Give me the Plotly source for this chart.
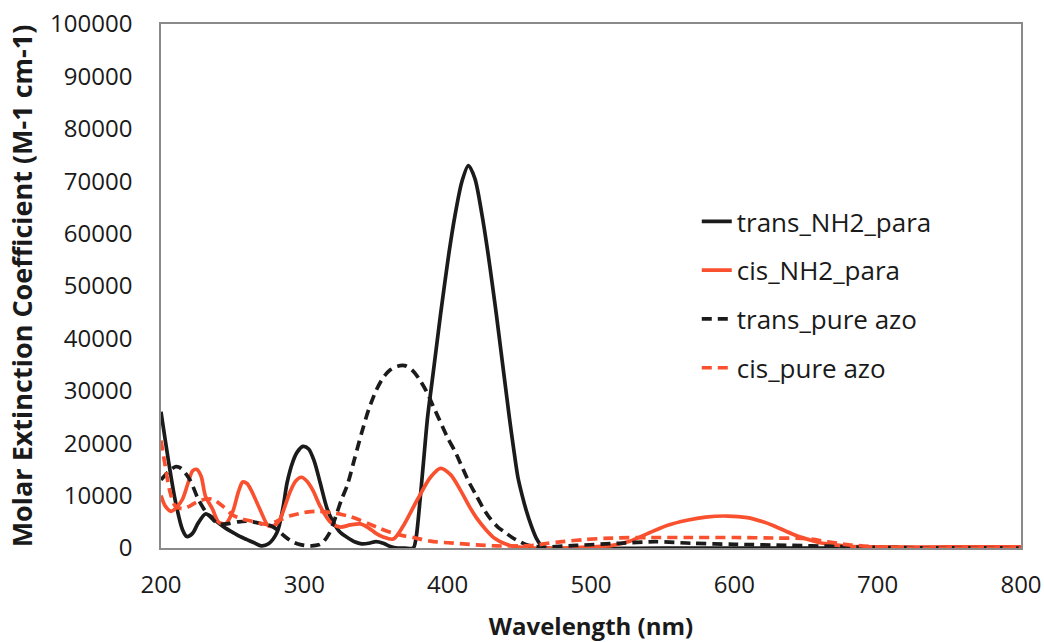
import plotly.graph_objects as go

# ---- data ----
wl_trans_nh2 = [200, 205, 210, 215, 218, 222, 226, 231, 236, 240, 245, 250, 255, 260, 265, 270, 275,
                281, 285, 288, 292, 295, 299, 303, 307, 311, 316, 320, 325, 330, 335, 340, 345, 350,
                355, 360, 365, 370, 376, 378, 380, 383, 386, 389, 392, 395, 398, 401, 405, 410, 414.5,
                419, 424, 428, 431, 434, 437, 440, 443, 446, 449, 452, 455, 458, 462, 466, 470, 550,
                650, 800]
eps_trans_nh2 = [26000, 17000, 9000, 3500, 2200, 2800, 4800, 6500, 5800, 4800, 3800, 3000, 2200, 1600,
                 1000, 400, 800, 3000, 7500, 12500, 16500, 18300, 19400, 18900, 16500, 12500, 7400,
                 5000, 3000, 2000, 1200, 800, 900, 1200, 900, 300, 0, 0, 0, 2000, 7000, 16000, 25000,
                 31500, 38000, 44500, 50600, 56500, 63300, 70000, 73000, 70500, 63500, 56500, 50600,
                 44500, 38000, 31500, 25000, 19000, 13500, 10000, 7000, 4500, 1800, 300, 0, 0, 0, 0]

wl_cis_nh2 = [200, 203, 207, 211, 215, 219, 222, 225, 228, 231, 236, 240, 245, 250, 254, 257, 260,
              263, 269, 275, 279, 283, 290, 294, 298, 302, 306, 311, 318, 325, 332, 339, 345, 350,
              355, 362, 369, 379, 388, 395, 402, 409, 415, 420, 427, 433, 440, 448, 460, 480, 500,
              515, 527, 539, 553, 567, 580, 595, 609, 620, 627, 636, 644, 652, 660, 670, 680, 700,
              750, 800]
eps_cis_nh2 = [10000, 8000, 7000, 7800, 9300, 12500, 14700, 15000, 13700, 9900, 7400, 5000, 4600,
               6900, 10700, 12600, 12300, 11000, 7400, 4200, 4300, 5500, 10700, 12800, 13500, 12700,
               11000, 8000, 5000, 4000, 4400, 4600, 3800, 2800, 2100, 1700, 4200, 9300, 13500,
               15200, 14000, 11000, 8000, 5800, 3400, 1800, 800, 200, 0, 0, 200, 500, 1300, 2700,
               4300, 5300, 5900, 6100, 5800, 5000, 4300, 3200, 2300, 1600, 1000, 600, 300, 200,
               200, 200]

wl_trans_azo = [200, 205, 210, 214, 220, 226, 231, 236, 240, 246, 254, 260, 266, 272, 277, 282, 286,
                291, 295, 300, 305, 310, 313, 317, 320, 323, 326, 330, 335, 340, 345, 350, 355, 360,
                365, 370, 375, 380, 385, 390, 395, 400, 405, 410, 415, 420, 425, 430, 435, 440, 445,
                451, 455, 460, 465, 470, 490, 520, 545, 570, 600, 640, 670, 700, 800]
eps_trans_azo = [13000, 14500, 15500, 15200, 13100, 9300, 7000, 5500, 4600, 4600, 5000, 5100, 4900,
                 4500, 4200, 3300, 2300, 1300, 800, 500, 400, 600, 1100, 2600, 4500, 6900, 9300,
                 12000, 17000, 22000, 26500, 30000, 32500, 34000, 34700, 34800, 34000, 32300, 30000,
                 27000, 24000, 21000, 18500, 15500, 12500, 10000, 7500, 5500, 4000, 3000, 2000, 1100,
                 600, 300, 200, 200, 500, 900, 1200, 900, 700, 500, 300, 100, 0]

wl_cis_azo = [200, 203, 206, 210, 215, 220, 225, 231, 236, 243, 250, 257, 262, 268, 274, 280, 285,
              291, 297, 303, 309, 315, 320, 326, 332, 339, 346, 353, 360, 368, 376, 388, 400, 411,
              420, 434, 450, 460, 470, 480, 495, 515, 540, 570, 600, 630, 650, 665, 680, 700, 720, 800]
eps_cis_azo = [20500, 15600, 11000, 8000, 7500, 8000, 8800, 9300, 9300, 8000, 6300, 5500, 5200, 4800,
               4500, 5000, 5600, 6200, 6600, 6900, 7000, 6900, 6700, 6400, 6000, 5300, 4500, 3700,
               3000, 2400, 2000, 1300, 1000, 800, 600, 400, 400, 500, 900, 1200, 1600, 1900, 2000,
               2000, 2000, 1900, 1800, 1200, 600, 200, 0, 0]

x_ticks = [200, 300, 400, 500, 600, 700, 800]
y_ticks = [0, 10000, 20000, 30000, 40000, 50000, 60000, 70000, 80000, 90000, 100000]

BLACK = "#1b1b1b"
RED = "#f9512f"
FONT = "'Open Sans', Lato, sans-serif"

fig = go.Figure()
series = [
    ("trans_NH2_para", wl_trans_nh2, eps_trans_nh2, BLACK, "solid"),
    ("cis_NH2_para", wl_cis_nh2, eps_cis_nh2, RED, "solid"),
    ("trans_pure azo", wl_trans_azo, eps_trans_azo, BLACK, "10px,6px"),
    ("cis_pure azo", wl_cis_azo, eps_cis_azo, RED, "10px,6px"),
]
for i, (name, xs, ys, col, dash) in enumerate(series):
    fig.add_trace(go.Scatter(
        x=xs, y=ys, name=name, mode="lines", legendgroup=f"g{i}",
        line=dict(color=col, width=3.7, dash=dash, shape="spline", smoothing=0.8),
    ))

fig.update_layout(
    width=1044, height=642,
    margin=dict(l=161, r=23, t=24, b=94, autoexpand=False),
    paper_bgcolor="white", plot_bgcolor="white",
    font=dict(family=FONT, size=24, color="#1a1a1a"),
    showlegend=True,
    legend=dict(x=0.623, y=0.668, xanchor="left", yanchor="top",
                font=dict(family=FONT, size=26, color="#1a1a1a"),
                bgcolor="rgba(0,0,0,0)", tracegroupgap=12, traceorder="grouped"),
)
fig.update_xaxes(
    range=[200, 800], tickmode="array", tickvals=x_ticks, ticktext=[str(v) for v in x_ticks],
    showgrid=False, zeroline=False, showline=True, linecolor="#8a8a8a", linewidth=1.5, mirror=True,
    ticks="", ticklabelstandoff=14, automargin=False,
    title=dict(text="<b>Wavelength (nm)</b>", font=dict(family=FONT, size=24), standoff=22),
)
fig.update_yaxes(
    range=[0, 100000], tickmode="array", tickvals=y_ticks, ticktext=[str(v) for v in y_ticks],
    showgrid=False, zeroline=False, showline=True, linecolor="#8a8a8a", linewidth=1.5, mirror=True,
    ticks="", ticklabelstandoff=22, automargin=False,
    title=dict(text="<b>Molar Extinction Coefficient (M-1 cm-1)</b>", font=dict(family=FONT, size=27),
               standoff=10),
)

fig.write_html("out.html")
